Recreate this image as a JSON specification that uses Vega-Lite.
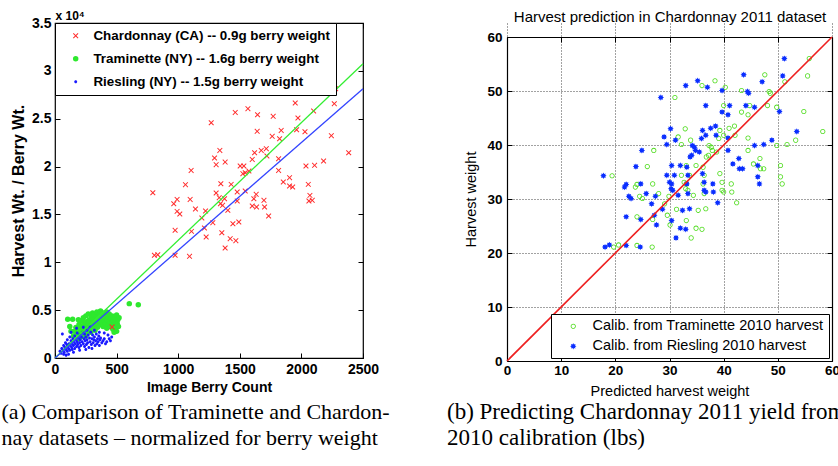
{
  "$schema": "https://vega.github.io/schema/vega-lite/v6.json",
  "background": "#ffffff",
  "padding": {"left": 0, "top": 8, "right": 0, "bottom": 0},
  "spacing": 55,
  "resolve": {"scale": {"color": "independent", "shape": "independent"}, "legend": {"color": "independent", "shape": "independent"}},
  "config": {
    "view": {"stroke": "#000000", "strokeWidth": 1.2},
    "axis": {"labelFont": "Liberation Sans", "titleFont": "Liberation Sans", "labelColor": "#000000", "titleColor": "#000000", "tickColor": "#000000", "domain": false, "labelFlush": false, "labelOverlap": false, "grid": false},
    "legend": {"labelFont": "Liberation Sans", "labelColor": "#000000", "labelLimit": 400},
    "title": {"font": "Liberation Serif", "color": "#000000"}
  },
  "hconcat": [
    {
      "width": 308,
      "height": 335,
      "title": {"text": ["(a) Comparison of Traminette and Chardon-", "nay datasets – normalized for berry weight"], "orient": "bottom", "anchor": "start", "font": "Liberation Serif", "fontSize": 22, "fontWeight": "normal", "lineHeight": 26, "offset": 8, "dx": -9},
      "layer": [
        {
          "data": {"values": [
            {"s":"C","x":1338,"y":21690},{"s":"C","x":1295,"y":20890},{"s":"C","x":1308,"y":20200},{"s":"C","x":1381,"y":20470},{"s":"C","x":1105,"y":19600},{"s":"C","x":1059,"y":18110},{"s":"C","x":794,"y":17270},{"s":"C","x":1503,"y":20060},{"s":"C","x":1533,"y":20060},{"s":"C","x":1525,"y":19260},{"s":"C","x":1544,"y":19360},{"s":"C","x":1574,"y":19530},{"s":"C","x":1620,"y":21450},{"s":"C","x":1674,"y":21690},{"s":"C","x":1715,"y":21870},{"s":"C","x":1601,"y":20750},{"s":"C","x":1720,"y":21100},{"s":"C","x":1815,"y":20820},{"s":"C","x":1815,"y":19600},{"s":"C","x":1853,"y":18390},{"s":"C","x":1904,"y":18840},{"s":"C","x":1904,"y":17970},{"s":"C","x":1929,"y":17860},{"s":"C","x":2037,"y":20060},{"s":"C","x":2107,"y":20130},{"s":"C","x":2180,"y":20580},{"s":"C","x":2384,"y":21450},{"s":"C","x":2056,"y":18140},{"s":"C","x":2069,"y":16990},{"s":"C","x":2061,"y":16400},{"s":"C","x":2088,"y":16470},{"s":"C","x":1346,"y":18210},{"s":"C","x":1430,"y":18140},{"s":"C","x":1308,"y":17240},{"s":"C","x":1479,"y":17340},{"s":"C","x":1544,"y":17450},{"s":"C","x":1633,"y":17100},{"s":"C","x":1614,"y":16640},{"s":"C","x":1696,"y":16470},{"s":"C","x":1601,"y":15880},{"s":"C","x":1636,"y":15770},{"s":"C","x":1701,"y":15770},{"s":"C","x":1734,"y":14830},{"s":"C","x":1333,"y":16750},{"s":"C","x":1376,"y":16640},{"s":"C","x":1343,"y":16120},{"s":"C","x":1360,"y":15950},{"s":"C","x":1479,"y":16400},{"s":"C","x":1403,"y":15430},{"s":"C","x":991,"y":16570},{"s":"C","x":964,"y":16120},{"s":"C","x":1097,"y":16570},{"s":"C","x":991,"y":15320},{"s":"C","x":1013,"y":15040},{"s":"C","x":1140,"y":15570},{"s":"C","x":1222,"y":15360},{"s":"C","x":1192,"y":14620},{"s":"C","x":1281,"y":14140},{"s":"C","x":1444,"y":14030},{"s":"C","x":1492,"y":14210},{"s":"C","x":975,"y":13340},{"s":"C","x":1108,"y":13230},{"s":"C","x":1213,"y":13580},{"s":"C","x":1354,"y":13090},{"s":"C","x":1422,"y":12470},{"s":"C","x":1468,"y":12260},{"s":"C","x":1227,"y":12640},{"s":"C","x":1381,"y":11490},{"s":"C","x":807,"y":10730},{"s":"C","x":834,"y":10790},{"s":"C","x":975,"y":10730},{"s":"C","x":1092,"y":10620},{"s":"C","x":1268,"y":24580},{"s":"C","x":1463,"y":25660},{"s":"C","x":1566,"y":26050},{"s":"C","x":1644,"y":25420},{"s":"C","x":1771,"y":25250},{"s":"C","x":1641,"y":23680},{"s":"C","x":1836,"y":23780},{"s":"C","x":1823,"y":22910},{"s":"C","x":1950,"y":26640},{"s":"C","x":1961,"y":23850},{"s":"C","x":1972,"y":25070},{"s":"C","x":2029,"y":23640},{"s":"C","x":2099,"y":25800},{"s":"C","x":2267,"y":26570},{"s":"C","x":2243,"y":23230},{"s":"C","x":2278,"y":28140},{"s":"C","x":1763,"y":23160},
            {"s":"T","x":103,"y":4040},{"s":"T","x":143,"y":4040},{"s":"T","x":603,"y":5680},{"s":"T","x":676,"y":5570},{"s":"T","x":150,"y":2300},{"s":"T","x":160,"y":2800},{"s":"T","x":170,"y":3200},{"s":"T","x":180,"y":2500},{"s":"T","x":190,"y":2000},{"s":"T","x":195,"y":3500},{"s":"T","x":200,"y":3000},{"s":"T","x":205,"y":2700},{"s":"T","x":210,"y":2200},{"s":"T","x":215,"y":3900},{"s":"T","x":220,"y":3300},{"s":"T","x":225,"y":2900},{"s":"T","x":230,"y":4200},{"s":"T","x":235,"y":3600},{"s":"T","x":240,"y":2500},{"s":"T","x":245,"y":3100},{"s":"T","x":250,"y":4400},{"s":"T","x":255,"y":3800},{"s":"T","x":260,"y":2800},{"s":"T","x":265,"y":3400},{"s":"T","x":270,"y":4600},{"s":"T","x":275,"y":3000},{"s":"T","x":280,"y":4000},{"s":"T","x":285,"y":3600},{"s":"T","x":290,"y":2700},{"s":"T","x":295,"y":4300},{"s":"T","x":300,"y":3200},{"s":"T","x":305,"y":4700},{"s":"T","x":310,"y":3800},{"s":"T","x":315,"y":3400},{"s":"T","x":320,"y":4500},{"s":"T","x":325,"y":2900},{"s":"T","x":330,"y":4100},{"s":"T","x":335,"y":3600},{"s":"T","x":340,"y":4800},{"s":"T","x":345,"y":3200},{"s":"T","x":350,"y":4300},{"s":"T","x":355,"y":3900},{"s":"T","x":360,"y":4600},{"s":"T","x":365,"y":3500},{"s":"T","x":370,"y":4900},{"s":"T","x":375,"y":4100},{"s":"T","x":380,"y":3700},{"s":"T","x":385,"y":4400},{"s":"T","x":390,"y":3300},{"s":"T","x":395,"y":4700},{"s":"T","x":400,"y":3900},{"s":"T","x":405,"y":4200},{"s":"T","x":410,"y":3600},{"s":"T","x":415,"y":4500},{"s":"T","x":420,"y":3100},{"s":"T","x":425,"y":4000},{"s":"T","x":430,"y":4300},{"s":"T","x":435,"y":3500},{"s":"T","x":440,"y":4600},{"s":"T","x":445,"y":3800},{"s":"T","x":450,"y":3300},{"s":"T","x":455,"y":4100},{"s":"T","x":460,"y":3700},{"s":"T","x":465,"y":4400},{"s":"T","x":470,"y":3000},{"s":"T","x":475,"y":3900},{"s":"T","x":480,"y":3500},{"s":"T","x":485,"y":4200},{"s":"T","x":490,"y":3800},{"s":"T","x":495,"y":3200},{"s":"T","x":500,"y":4500},{"s":"T","x":505,"y":3600},{"s":"T","x":510,"y":4000},{"s":"T","x":515,"y":3300},{"s":"T","x":520,"y":4200},{"s":"T","x":500,"y":2800},{"s":"T","x":480,"y":2700},{"s":"T","x":190,"y":4000},{"s":"T","x":130,"y":2800},{"s":"T","x":120,"y":3300},{"s":"T","x":250,"y":2300},{"s":"T","x":275,"y":3700},{"s":"T","x":300,"y":4000},{"s":"T","x":365,"y":4800},{"s":"T","x":420,"y":4800},
            {"s":"R","x":40,"y":700},{"s":"R","x":50,"y":500},{"s":"R","x":55,"y":1000},{"s":"R","x":60,"y":2500},{"s":"R","x":65,"y":800},{"s":"R","x":70,"y":1300},{"s":"R","x":75,"y":600},{"s":"R","x":80,"y":1100},{"s":"R","x":85,"y":1600},{"s":"R","x":90,"y":900},{"s":"R","x":95,"y":1400},{"s":"R","x":100,"y":700},{"s":"R","x":100,"y":1900},{"s":"R","x":105,"y":1200},{"s":"R","x":110,"y":1000},{"s":"R","x":115,"y":1500},{"s":"R","x":120,"y":800},{"s":"R","x":120,"y":2200},{"s":"R","x":125,"y":1300},{"s":"R","x":130,"y":1800},{"s":"R","x":135,"y":1100},{"s":"R","x":140,"y":1500},{"s":"R","x":140,"y":900},{"s":"R","x":145,"y":2000},{"s":"R","x":150,"y":1300},{"s":"R","x":155,"y":1700},{"s":"R","x":160,"y":1000},{"s":"R","x":160,"y":2300},{"s":"R","x":165,"y":1500},{"s":"R","x":170,"y":1900},{"s":"R","x":175,"y":1200},{"s":"R","x":180,"y":1700},{"s":"R","x":180,"y":2600},{"s":"R","x":185,"y":1400},{"s":"R","x":190,"y":2100},{"s":"R","x":195,"y":1100},{"s":"R","x":200,"y":1600},{"s":"R","x":200,"y":2400},{"s":"R","x":205,"y":1900},{"s":"R","x":210,"y":1300},{"s":"R","x":215,"y":2200},{"s":"R","x":220,"y":1700},{"s":"R","x":225,"y":2700},{"s":"R","x":230,"y":1500},{"s":"R","x":235,"y":2000},{"s":"R","x":240,"y":1200},{"s":"R","x":240,"y":2500},{"s":"R","x":245,"y":1800},{"s":"R","x":250,"y":2200},{"s":"R","x":255,"y":1400},{"s":"R","x":260,"y":2900},{"s":"R","x":260,"y":1900},{"s":"R","x":265,"y":1600},{"s":"R","x":270,"y":2400},{"s":"R","x":275,"y":1100},{"s":"R","x":280,"y":2100},{"s":"R","x":285,"y":1700},{"s":"R","x":290,"y":2700},{"s":"R","x":295,"y":1400},{"s":"R","x":300,"y":2000},{"s":"R","x":305,"y":2400},{"s":"R","x":310,"y":1600},{"s":"R","x":315,"y":1900},{"s":"R","x":320,"y":2200},{"s":"R","x":325,"y":1300},{"s":"R","x":330,"y":1800},{"s":"R","x":335,"y":2500},{"s":"R","x":340,"y":1500},{"s":"R","x":345,"y":2000},{"s":"R","x":350,"y":1700},{"s":"R","x":355,"y":2300},{"s":"R","x":360,"y":1300},{"s":"R","x":365,"y":1900},{"s":"R","x":370,"y":2100},{"s":"R","x":380,"y":1600},{"s":"R","x":390,"y":1800},{"s":"R","x":400,"y":2000},{"s":"R","x":410,"y":1500},{"s":"R","x":420,"y":1700},{"s":"R","x":440,"y":2000},{"s":"R","x":450,"y":1800},{"s":"R","x":300,"y":1000},{"s":"R","x":250,"y":900},{"s":"R","x":200,"y":800},{"s":"R","x":150,"y":600},{"s":"R","x":110,"y":400},{"s":"R","x":90,"y":300},{"s":"R","x":70,"y":400},{"s":"R","x":130,"y":2700},{"s":"R","x":175,"y":3100},{"s":"R","x":230,"y":3200},{"s":"R","x":280,"y":3300},{"s":"R","x":320,"y":2900},{"s":"R","x":360,"y":2700},{"s":"R","x":400,"y":2600},{"s":"R","x":430,"y":2400},{"s":"R","x":460,"y":2200},
            {"s":"C","x":463,"y":3240}
          ]},
          "mark": {"type": "point", "filled": true, "size": 30, "opacity": 1, "strokeWidth": 0},
          "encoding": {
            "x": {"field": "x", "type": "quantitative", "scale": {"domain": [0, 2500], "nice": false, "zero": false},
                  "axis": {"values": [0, 500, 1000, 1500, 2000, 2500], "format": "d", "tickSize": -5, "labelPadding": 9, "labelFontSize": 14, "labelFontWeight": "bold", "title": "Image Berry Count", "titleFontSize": 14, "titleFontWeight": "bold", "titlePadding": 4}},
            "y": {"field": "y", "type": "quantitative", "scale": {"domain": [0, 35000], "nice": false},
                  "axis": {"values": [0, 5000, 10000, 15000, 20000, 25000, 30000, 35000], "labelExpr": "format(datum.value / 10000, '~g')", "tickSize": -5, "labelPadding": 9, "labelFontSize": 14, "labelFontWeight": "bold", "title": "Harvest Wt. / Berry Wt.", "titleFontSize": 16, "titleFontWeight": "bold", "titlePadding": 5}},
            "color": {"field": "s", "type": "nominal", "scale": {"domain": ["C", "T", "R"], "range": ["#ff2a2a", "#2ee82e", "#1a1aff"]},
                      "legend": {"title": null, "orient": "top-left", "offset": 0, "strokeColor": "#000000", "fillColor": "#ffffff", "padding": 6, "rowPadding": 8, "labelFontSize": 13.4, "labelFontWeight": "bold", "symbolSize": 30, "symbolOffset": 8, "labelOffset": 11, "symbolStrokeWidth": 0,
                                 "labelExpr": "datum.label == 'C' ? 'Chardonnay (CA) -- 0.9g berry weight' : datum.label == 'T' ? 'Traminette (NY) -- 1.6g berry weight' : 'Riesling (NY) -- 1.5g berry weight'"}},
            "shape": {"field": "s", "type": "nominal", "scale": {"domain": ["C", "T", "R"], "range": ["M-1,-0.75L-0.75,-1L0,-0.25L0.75,-1L1,-0.75L0.25,0L1,0.75L0.75,1L0,0.25L-0.75,1L-1,0.75L-0.25,0Z", "circle", "M0.55,0A0.55,0.55,0,1,1,-0.55,0A0.55,0.55,0,1,1,0.55,0Z"]}}
          }
        },
        {
          "data": {"values": [{"x": 0, "y": 0}, {"x": 2500, "y": 30750}]},
          "mark": {"type": "line", "color": "#33ee33", "strokeWidth": 1.3},
          "encoding": {
            "x": {"field": "x", "type": "quantitative", "axis": {"orient": "top", "values": [0, 500, 1000, 1500, 2000, 2500], "labels": false, "tickSize": -5, "title": "x 10⁴", "titleAnchor": "start", "titleFontSize": 12, "titleFontWeight": "bold", "titlePadding": 0}},
            "y": {"field": "y", "type": "quantitative", "axis": {"orient": "right", "values": [0, 5000, 10000, 15000, 20000, 25000, 30000, 35000], "labels": false, "tickSize": -5, "title": null}}
          }
        },
        {
          "data": {"values": [{"x": 0, "y": 0}, {"x": 2500, "y": 28140}]},
          "mark": {"type": "line", "color": "#3344ff", "strokeWidth": 1.3},
          "encoding": {
            "x": {"field": "x", "type": "quantitative", "axis": null},
            "y": {"field": "y", "type": "quantitative", "axis": null}
          }
        }
      ],
      "resolve": {"axis": {"x": "independent", "y": "independent"}}
    },
    {
      "width": 325,
      "height": 338,
      "view": {"stroke": null},
      "title": {"text": ["(b) Predicting Chardonnay 2011 yield from", "2010 calibration (lbs)"], "orient": "bottom", "anchor": "start", "font": "Liberation Serif", "fontSize": 23, "fontWeight": "normal", "lineHeight": 26, "offset": 3, "dx": -17},
      "layer": [
        {
          "data": {"values": [
            {"c":"T","x":19.4,"y":34.3},{"c":"T","x":23.7,"y":32.2},{"c":"T","x":24.0,"y":32.7},{"c":"T","x":24.5,"y":30.5},{"c":"T","x":25.0,"y":30.1},{"c":"T","x":25.9,"y":36.0},{"c":"T","x":27.1,"y":39.0},{"c":"T","x":26.9,"y":32.8},{"c":"T","x":28.0,"y":31.0},{"c":"T","x":29.9,"y":30.5},{"c":"T","x":31.0,"y":48.8},{"c":"T","x":31.6,"y":41.5},{"c":"T","x":32.2,"y":40.1},{"c":"T","x":32.9,"y":43.0},{"c":"T","x":33.1,"y":36.2},{"c":"T","x":32.2,"y":34.4},{"c":"T","x":32.7,"y":33.1},{"c":"T","x":33.1,"y":32.8},{"c":"T","x":33.7,"y":34.4},{"c":"T","x":33.9,"y":40.9},{"c":"T","x":34.9,"y":36.2},{"c":"T","x":36.0,"y":51.0},{"c":"T","x":36.4,"y":34.4},{"c":"T","x":36.2,"y":35.9},{"c":"T","x":36.2,"y":32.8},{"c":"T","x":34.4,"y":30.7},{"c":"T","x":38.4,"y":51.9},{"c":"T","x":37.3,"y":39.9},{"c":"T","x":37.7,"y":39.6},{"c":"T","x":37.2,"y":38.1},{"c":"T","x":36.8,"y":37.8},{"c":"T","x":37.9,"y":39.0},{"c":"T","x":38.7,"y":38.7},{"c":"T","x":39.1,"y":41.2},{"c":"T","x":39.3,"y":42.7},{"c":"T","x":40.0,"y":47.3},{"c":"T","x":40.3,"y":50.7},{"c":"T","x":40.0,"y":41.8},{"c":"T","x":41.0,"y":43.1},{"c":"T","x":42.0,"y":43.5},{"c":"T","x":42.1,"y":41.8},{"c":"T","x":39.3,"y":34.7},{"c":"T","x":39.7,"y":33.1},{"c":"T","x":39.7,"y":31.6},{"c":"T","x":40.0,"y":31.3},{"c":"T","x":41.5,"y":31.3},{"c":"T","x":41.4,"y":32.8},{"c":"T","x":43.3,"y":50.1},{"c":"T","x":43.3,"y":46.1},{"c":"T","x":44.8,"y":47.3},{"c":"T","x":44.5,"y":45.6},{"c":"T","x":44.5,"y":41.3},{"c":"T","x":44.5,"y":39.0},{"c":"T","x":45.5,"y":36.5},{"c":"T","x":46.7,"y":37.5},{"c":"T","x":46.8,"y":35.6},{"c":"T","x":47.4,"y":35.6},{"c":"T","x":47.6,"y":53.0},{"c":"T","x":48.4,"y":49.9},{"c":"T","x":48.6,"y":49.6},{"c":"T","x":48.1,"y":47.3},{"c":"T","x":49.8,"y":47.0},{"c":"T","x":49.8,"y":39.9},{"c":"T","x":50.5,"y":36.2},{"c":"T","x":50.5,"y":34.1},{"c":"T","x":50.8,"y":32.8},{"c":"T","x":51.3,"y":51.7},{"c":"T","x":51.7,"y":40.1},{"c":"T","x":53.3,"y":40.9},{"c":"T","x":55.5,"y":52.8},{"c":"T","x":55.8,"y":56.0},{"c":"T","x":54.8,"y":46.2},{"c":"T","x":58.3,"y":42.5},{"c":"T","x":29.1,"y":29.1},{"c":"T","x":31.3,"y":28.1},{"c":"T","x":29.6,"y":27.0},{"c":"T","x":30.1,"y":25.2},{"c":"T","x":24.0,"y":26.7},{"c":"T","x":26.9,"y":26.2},{"c":"T","x":33.0,"y":31.9},{"c":"T","x":33.4,"y":31.6},{"c":"T","x":33.1,"y":26.0},{"c":"T","x":34.0,"y":22.8},{"c":"T","x":34.9,"y":24.6},{"c":"T","x":35.3,"y":27.9},{"c":"T","x":36.0,"y":24.4},{"c":"T","x":36.7,"y":28.2},{"c":"T","x":36.4,"y":31.0},{"c":"T","x":42.4,"y":29.3},{"c":"T","x":19.7,"y":21.1},{"c":"T","x":20.6,"y":21.5},{"c":"T","x":24.0,"y":21.4},{"c":"T","x":26.8,"y":21.1},
            {"c":"R","x":17.8,"y":34.3},{"c":"R","x":21.7,"y":32.2},{"c":"R","x":22.0,"y":32.7},{"c":"R","x":22.5,"y":30.5},{"c":"R","x":22.9,"y":30.1},{"c":"R","x":23.8,"y":36.0},{"c":"R","x":24.9,"y":39.0},{"c":"R","x":24.7,"y":32.8},{"c":"R","x":25.7,"y":31.0},{"c":"R","x":27.4,"y":30.5},{"c":"R","x":28.4,"y":48.8},{"c":"R","x":29.0,"y":41.5},{"c":"R","x":29.5,"y":40.1},{"c":"R","x":30.2,"y":43.0},{"c":"R","x":30.4,"y":36.2},{"c":"R","x":29.5,"y":34.4},{"c":"R","x":30.0,"y":33.1},{"c":"R","x":30.4,"y":32.8},{"c":"R","x":30.9,"y":34.4},{"c":"R","x":31.1,"y":40.9},{"c":"R","x":32.0,"y":36.2},{"c":"R","x":33.0,"y":51.0},{"c":"R","x":33.4,"y":34.4},{"c":"R","x":33.2,"y":35.9},{"c":"R","x":33.2,"y":32.8},{"c":"R","x":31.6,"y":30.7},{"c":"R","x":35.2,"y":51.9},{"c":"R","x":34.2,"y":39.9},{"c":"R","x":34.6,"y":39.6},{"c":"R","x":34.1,"y":38.1},{"c":"R","x":33.8,"y":37.8},{"c":"R","x":34.8,"y":39.0},{"c":"R","x":35.5,"y":38.7},{"c":"R","x":35.9,"y":41.2},{"c":"R","x":36.1,"y":42.7},{"c":"R","x":36.7,"y":47.3},{"c":"R","x":37.0,"y":50.7},{"c":"R","x":36.7,"y":41.8},{"c":"R","x":37.6,"y":43.1},{"c":"R","x":38.5,"y":43.5},{"c":"R","x":38.6,"y":41.8},{"c":"R","x":36.1,"y":34.7},{"c":"R","x":36.4,"y":33.1},{"c":"R","x":36.4,"y":31.6},{"c":"R","x":36.7,"y":31.3},{"c":"R","x":38.1,"y":31.3},{"c":"R","x":38.0,"y":32.8},{"c":"R","x":39.7,"y":50.1},{"c":"R","x":39.7,"y":46.1},{"c":"R","x":41.1,"y":47.3},{"c":"R","x":40.8,"y":45.6},{"c":"R","x":40.8,"y":41.3},{"c":"R","x":40.8,"y":39.0},{"c":"R","x":41.7,"y":36.5},{"c":"R","x":42.8,"y":37.5},{"c":"R","x":42.9,"y":35.6},{"c":"R","x":43.5,"y":35.6},{"c":"R","x":43.7,"y":53.0},{"c":"R","x":44.4,"y":49.9},{"c":"R","x":44.6,"y":49.6},{"c":"R","x":44.1,"y":47.3},{"c":"R","x":45.7,"y":47.0},{"c":"R","x":45.7,"y":39.9},{"c":"R","x":46.3,"y":36.2},{"c":"R","x":46.3,"y":34.1},{"c":"R","x":46.6,"y":32.8},{"c":"R","x":47.1,"y":51.7},{"c":"R","x":47.4,"y":40.1},{"c":"R","x":48.9,"y":40.9},{"c":"R","x":50.9,"y":52.8},{"c":"R","x":51.2,"y":56.0},{"c":"R","x":50.3,"y":46.2},{"c":"R","x":53.5,"y":42.5},{"c":"R","x":26.7,"y":29.1},{"c":"R","x":28.7,"y":28.1},{"c":"R","x":27.2,"y":27.0},{"c":"R","x":27.6,"y":25.2},{"c":"R","x":22.0,"y":26.7},{"c":"R","x":24.7,"y":26.2},{"c":"R","x":30.3,"y":31.9},{"c":"R","x":30.6,"y":31.6},{"c":"R","x":30.4,"y":26.0},{"c":"R","x":31.2,"y":22.8},{"c":"R","x":32.0,"y":24.6},{"c":"R","x":32.4,"y":27.9},{"c":"R","x":33.0,"y":24.4},{"c":"R","x":33.7,"y":28.2},{"c":"R","x":33.4,"y":31.0},{"c":"R","x":38.9,"y":29.3},{"c":"R","x":18.1,"y":21.1},{"c":"R","x":18.9,"y":21.5},{"c":"R","x":22.0,"y":21.4},{"c":"R","x":24.6,"y":21.1}
          ]},
          "mark": {"type": "point", "filled": true, "size": 50, "opacity": 1, "strokeWidth": 0},
          "encoding": {
            "x": {"field": "x", "type": "quantitative", "scale": {"domain": [0, 60], "nice": false, "zero": false},
                  "axis": {"values": [0, 10, 20, 30, 40, 50, 60], "domain": true, "domainColor": "#000000", "domainWidth": 1.2, "tickSize": -5, "labelPadding": 7, "labelFontSize": 13.5, "labelFontWeight": "bold", "title": "Predicted harvest weight", "titleFontSize": 14.5, "titleFontWeight": "normal", "titlePadding": 8, "grid": true, "gridDash": [1, 2], "gridColor": "#444444", "gridWidth": 1}},
            "y": {"field": "y", "type": "quantitative", "scale": {"domain": [0, 60], "range": [338, 14], "nice": false, "zero": false},
                  "axis": {"values": [0, 10, 20, 30, 40, 50, 60], "domain": true, "domainColor": "#000000", "domainWidth": 1.2, "tickSize": -5, "labelPadding": 10, "labelFontSize": 13.5, "labelFontWeight": "bold", "title": "Harvest weight", "titleFontSize": 14.5, "titleFontWeight": "normal", "titlePadding": 8, "grid": true, "gridDash": [1, 2], "gridColor": "#444444", "gridWidth": 1}},
            "color": {"field": "c", "type": "nominal", "scale": {"domain": ["T", "R"], "range": ["#4fdc1e", "#0a2eff"]},
                      "legend": {"title": null, "orient": "bottom-right", "offset": 3, "strokeColor": "#000000", "fillColor": "#ffffff", "padding": 5, "rowPadding": 5, "labelFontSize": 14.5, "symbolSize": 50, "symbolOffset": 10, "labelOffset": 12, "symbolStrokeWidth": 0,
                                 "labelExpr": "datum.label == 'T' ? 'Calib. from Traminette 2010 harvest' : 'Calib. from Riesling 2010 harvest'"}},
            "shape": {"field": "c", "type": "nominal", "scale": {"domain": ["T", "R"], "range": ["M0.73,0A0.73,0.73,0,1,1,-0.73,0A0.73,0.73,0,1,1,0.73,0ZM0.5,0A0.5,0.5,0,1,0,-0.5,0A0.5,0.5,0,1,0,0.5,0Z", "M0.9,0L0.51,0.21L0.64,0.64L0.21,0.51L0,0.9L-0.21,0.51L-0.64,0.64L-0.51,0.21L-0.9,0L-0.51,-0.21L-0.64,-0.64L-0.21,-0.51L0,-0.9L0.21,-0.51L0.64,-0.64L0.51,-0.21Z"]}}
          }
        },
        {
          "data": {"values": [{"x": 0, "y": 0}, {"x": 60, "y": 60}]},
          "mark": {"type": "line", "color": "#ee2020", "strokeWidth": 1.6},
          "encoding": {
            "x": {"field": "x", "type": "quantitative", "axis": {"orient": "top", "offset": -14, "values": [0, 10, 20, 30, 40, 50, 60], "domain": true, "domainColor": "#000000", "domainWidth": 1.2, "labels": false, "tickSize": -5, "title": "Harvest prediction in Chardonnay 2011 dataset", "titleFontSize": 15, "titleFontWeight": "normal", "titlePadding": 12}},
            "y": {"field": "y", "type": "quantitative", "axis": {"orient": "right", "values": [0, 10, 20, 30, 40, 50, 60], "domain": true, "domainColor": "#000000", "domainWidth": 1.2, "labels": false, "tickSize": -5, "title": null}}
          }
        }
      ],
      "resolve": {"axis": {"x": "independent", "y": "independent"}}
    }
  ]
}
